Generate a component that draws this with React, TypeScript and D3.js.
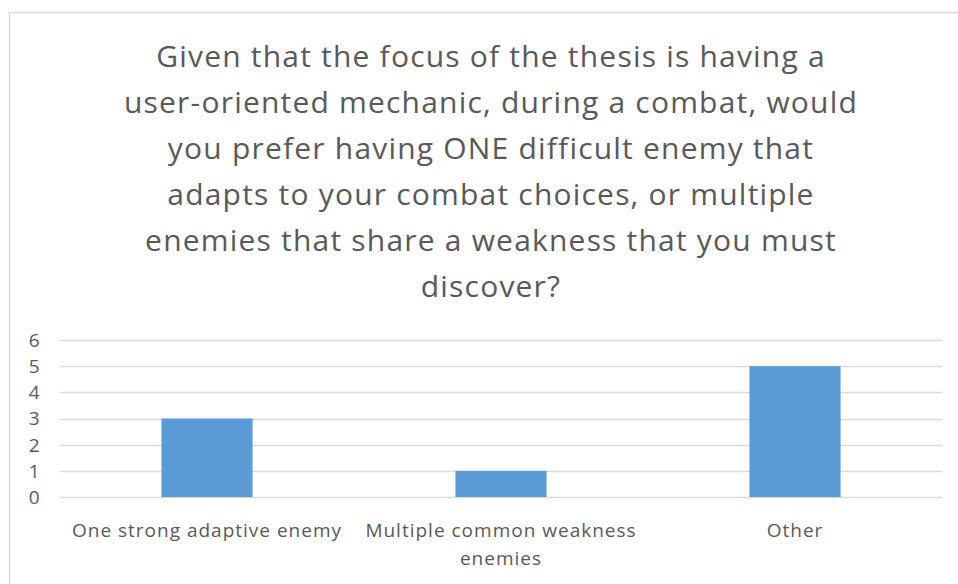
import React, { useEffect, useRef } from "react";
import * as d3 from "d3";

const titleLines = [
  "Given that the focus of the thesis is having a",
  "user-oriented mechanic, during a combat, would",
  "you prefer having ONE difficult enemy that",
  "adapts to your combat choices, or multiple",
  "enemies that share a weakness that you must",
  "discover?",
];
const categories = ["One strong adaptive enemy", "Multiple common weakness enemies", "Other"];
const categoryLines = [["One strong adaptive enemy"], ["Multiple common weakness", "enemies"], ["Other"]];
const values = [3, 1, 5];
const yTicks = [0, 1, 2, 3, 4, 5, 6];

const W = 958;
const H = 584;
const FONT = "'Open Sans', 'Noto Sans', sans-serif";
const TEXT = "#595959";

export default function App() {
  const ref = useRef<SVGSVGElement | null>(null);

  useEffect(() => {
    const node = ref.current;
    if (!node) return;
    const svg = d3.select(node);
    svg.selectAll("*").remove();

    svg.append("rect").attr("width", W).attr("height", H).attr("fill", "#fff");

    // chart frame, runs off the right and bottom of the shot
    svg
      .append("rect")
      .attr("x", 9.5)
      .attr("y", 12.5)
      .attr("width", 1000)
      .attr("height", 700)
      .attr("fill", "none")
      .attr("stroke", "#d9d9d9")
      .attr("stroke-width", 1.5);

    svg
      .append("g")
      .selectAll("text")
      .data(titleLines)
      .enter()
      .append("text")
      .attr("x", 491)
      .attr("y", (d, i) => 67 + i * 46)
      .attr("text-anchor", "middle")
      .style("font-family", FONT)
      .style("font-size", "30px")
      .style("letter-spacing", "1.2px")
      .style("fill", TEXT)
      .text(d => d);

    const x = d3.scaleBand().domain(categories).range([60, 942]).paddingInner(0.69).paddingOuter(0.345);
    const y = d3.scaleLinear().domain([0, 6]).range([497, 340]);

    const grid = svg.append("g");
    grid
      .selectAll("line")
      .data(yTicks)
      .enter()
      .append("line")
      .attr("x1", 60)
      .attr("x2", 942)
      .attr("y1", d => Math.round(y(d)) + 0.5)
      .attr("y2", d => Math.round(y(d)) + 0.5)
      .attr("stroke", "#d9d9d9")
      .attr("stroke-width", 1.3);

    svg
      .append("g")
      .selectAll("text")
      .data(yTicks)
      .enter()
      .append("text")
      .attr("x", 40)
      .attr("y", d => y(d))
      .attr("dy", "0.36em")
      .attr("text-anchor", "end")
      .style("font-family", FONT)
      .style("font-size", "19px")
      .style("letter-spacing", "0.5px")
      .style("fill", TEXT)
      .text(d => d);

    svg
      .append("g")
      .selectAll("rect")
      .data(values)
      .enter()
      .append("rect")
      .attr("x", (d, i) => x(categories[i]) as number)
      .attr("width", x.bandwidth())
      .attr("y", d => y(d))
      .attr("height", d => y(0) - y(d))
      .attr("fill", "#5b9bd5");

    const labels = svg
      .append("g")
      .selectAll("text")
      .data(categoryLines)
      .enter()
      .append("text")
      .attr("text-anchor", "middle")
      .style("font-family", FONT)
      .style("font-size", "19px")
      .style("letter-spacing", "1px")
      .style("fill", TEXT);

    labels
      .selectAll("tspan")
      .data((d, i) => d.map(line => ({ line, i })))
      .enter()
      .append("tspan")
      .attr("x", d => (x(categories[d.i]) as number) + x.bandwidth() / 2)
      .attr("y", (d, j) => 537 + j * 28)
      .text(d => d.line);
  }, []);

  return (
    <svg
      ref={ref}
      width={W}
      height={H}
      style={{ position: "absolute", left: 0, top: 0, display: "block" }}
    />
  );
}
